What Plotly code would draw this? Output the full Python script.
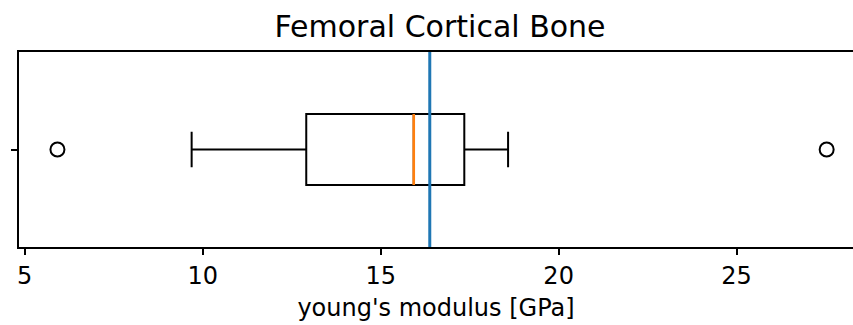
import plotly.graph_objects as go

# Summary statistics of Young's modulus for femoral cortical bone [GPa]
box_position = [1]
q1_values = [12.91]
median_values = [15.93]
q3_values = [17.35]
lower_whisker = [9.69]
upper_whisker = [18.58]
outlier_values = [5.92, 27.53]
mean_value = 16.38

box_width = 0.5
x_range = [4.84, 28.27]
y_range = [1 - 0.6865, 1 + 0.6865]
x_ticks = [5, 10, 15, 20, 25]

font_family = "DejaVu Sans"

fig = go.Figure()

fig.add_trace(go.Box(
    y=box_position,
    q1=q1_values,
    median=median_values,
    q3=q3_values,
    lowerfence=lower_whisker,
    upperfence=upper_whisker,
    orientation="h",
    width=box_width,
    whiskerwidth=0.5,
    boxpoints=False,
    fillcolor="rgba(255,255,255,0)",
    line=dict(color="black", width=2),
    hoverinfo="skip",
    showlegend=False,
))

# orange median line drawn over the box
for m, pos in zip(median_values, box_position):
    fig.add_trace(go.Scatter(
        x=[m, m],
        y=[pos - box_width / 2, pos + box_width / 2],
        mode="lines",
        line=dict(color="#ff7f0e", width=2.6),
        showlegend=False,
        hoverinfo="skip",
    ))

# fliers
fig.add_trace(go.Scatter(
    x=outlier_values,
    y=box_position * len(outlier_values),
    mode="markers",
    marker=dict(symbol="circle-open", size=14, color="black",
                line=dict(color="black", width=2)),
    showlegend=False,
    hoverinfo="skip",
))

# mean value marker line
fig.add_vline(x=mean_value, line_color="#1f77b4", line_width=3)

fig.update_layout(
    width=853,
    height=325,
    margin=dict(l=19, r=0, t=52, b=78),
    paper_bgcolor="white",
    plot_bgcolor="white",
    font=dict(family=font_family, color="black", size=24),
    title=dict(
        text="Femoral Cortical Bone",
        x=440 / 853,
        xanchor="center",
        y=1 - 26 / 325,
        yanchor="middle",
        font=dict(size=30, family=font_family, color="black"),
    ),
    xaxis=dict(
        range=x_range,
        tickvals=x_ticks,
        ticktext=[str(t) for t in x_ticks],
        ticks="outside",
        ticklen=6,
        tickwidth=2,
        tickcolor="black",
        showline=True,
        linecolor="black",
        linewidth=2,
        mirror=True,
        showgrid=False,
        zeroline=False,
        tickfont=dict(size=24, family=font_family, color="black"),
        title=dict(text="young's modulus [GPa]", standoff=10,
                   font=dict(size=24, family=font_family, color="black")),
    ),
    yaxis=dict(
        range=y_range,
        tickvals=box_position,
        ticktext=[""],
        ticks="outside",
        ticklen=6,
        tickwidth=2,
        tickcolor="black",
        showline=True,
        linecolor="black",
        linewidth=2,
        mirror=False,
        showgrid=False,
        zeroline=False,
    ),
)

fig.write_html("out.html")
